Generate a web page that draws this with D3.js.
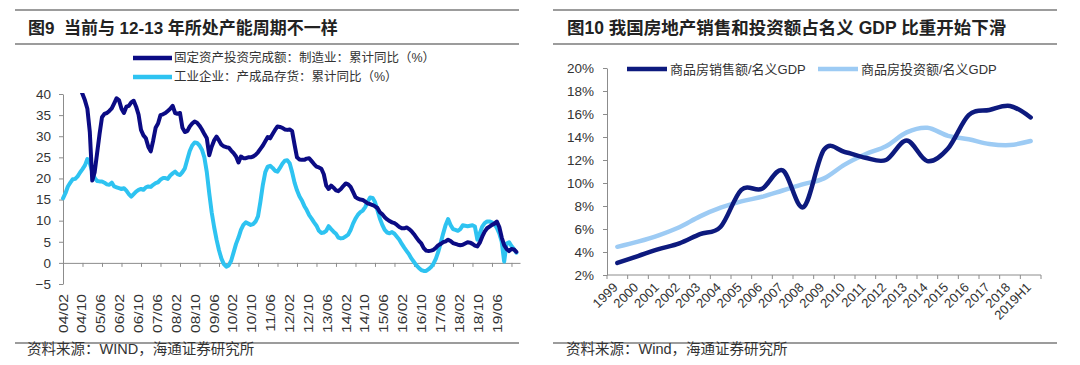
<!DOCTYPE html>
<html>
<head>
<meta charset="utf-8">
<script src="https://cdn.jsdelivr.net/npm/d3@7"></script>
<style>
  body { margin: 0; background: #fff; }
  svg { display: block; }
  text { font-family: "Liberation Sans", Arial, "Noto Sans CJK SC", sans-serif; fill: #333; }
</style>
</head>
<body>
<svg id="chart" width="1080" height="365"></svg>
<script>
// ---- left chart: monthly, 2004/02 .. 2019/08 ----
// 固定资产投资完成额:制造业:累计同比 (%)
const faiMfg = [
  48, 47, 46, 45, 44, 43.5, 43, 41.5, 40, 38.5, 36.5,
  31, 19.5, 21.5, 26, 30.5, 34.5, 35.3, 35.5, 36, 36.6, 37.8, 39,
  38.5, 36.5, 35.5, 37, 37.2, 38, 38.4, 37, 35.1, 31.5, 30.2, 29.5,
  27.5, 26.4, 29, 32, 33, 35, 35.2, 35.5, 36, 36.5, 37.2, 35.5,
  35.3, 35.5, 32, 31, 31.2, 32.3, 33, 33.5, 33.2, 32.5, 31.6, 30.5,
  29.5, 25.5, 27.5, 29, 29.9, 29, 28, 27.6, 27.4, 27.3, 26.6, 26,
  25.2, 23.8, 25.2, 24.8, 24.8, 25, 25, 25.2, 25.6, 26.2, 27, 27.8,
  28.8, 29.8, 29.5, 30.5, 31.5, 32.3, 32.2, 32, 31.6, 31.5, 31.6, 31.2,
  28, 25, 24.5, 24.4, 24.4, 24.7, 24.8, 24.1, 23.4, 22.8, 22.6, 22.3,
  21, 18.3, 17.5, 18.3, 17.8, 17.2, 17, 17.5, 18.2, 18.8, 18.6, 18,
  16.8, 15.6, 15.2, 15, 14.9, 14.5, 14.1, 13.9, 13.7, 13.4, 13, 12,
  11.5, 10.8, 10.3, 9.9, 9.6, 9.4, 9, 8.5, 8.2, 8.2, 8.4, 8,
  7.5, 6.8, 6, 5.2, 4.6, 3.5, 2.9, 2.8, 2.9, 3.1, 3.6, 4.2,
  4.5, 4.9, 5.1, 5.5, 5.2, 4.7, 4.5, 4.3, 4.2, 4.3, 4.6, 4.9,
  4.8, 4.5, 4.1, 3.9, 4.8, 6.2, 7.4, 8.2, 8.6, 9, 9.3, 9.8,
  8.5, 6, 4.2, 3.3, 2.8, 3.3, 3.2, 2.6
];
// 工业企业:产成品存货:累计同比 (%)
const inventory = [
  15.3, 16.5, 18.1, 19.0, 19.8, 19.9, 20.5, 21.4, 22.2, 23.1, 24.6,
  23.6, 21.6, 20.1, 19.4, 19.3, 19.3, 19.0, 18.6, 18.5, 19.0, 18.1, 17.9,
  17.7, 17.5, 17.7, 17.1, 16.3, 15.7, 16.3, 16.9, 17.3, 17.5, 17.3, 17.9,
  18.1, 18.0, 18.5, 18.9, 19.1, 19.7, 20.1, 20.1, 19.9, 20.7, 21.2, 21.6,
  21.0, 20.8, 21.5, 22.4, 24.5, 26.5, 27.8, 28.5, 28.4, 27.8, 26.8, 25.0,
  21.5, 16.5, 12.0, 8.5, 5.5, 3.0, 1.0, -0.3, -0.9, -0.6, 0.5, 2.5,
  4.5, 6.0, 7.8, 9.0, 9.6, 9.3, 9.0, 9.2, 9.8, 11.0, 14.5, 18.5,
  21.5, 22.8, 23.0, 22.5, 21.8, 21.6, 22.5, 23.5, 24.2, 24.3, 23.6, 21.5,
  19.0, 17.2, 15.8, 14.8, 13.5, 12.5, 11.3, 10.5, 9.6, 8.8, 7.6, 7.1,
  7.2, 7.6, 8.7, 8.0, 7.4, 6.9, 6.0, 5.8, 5.9, 6.3, 6.7, 7.8,
  9.3, 10.5, 11.4, 12.0, 12.4, 13.2, 14.5, 15.5, 15.4, 14.4, 12.5, 10.5,
  9.0, 7.8, 7.2, 7.0, 7.3, 6.9, 6.2, 5.5, 4.5, 3.6, 2.8, 2.0,
  1.0, 0.2, -0.6, -1.2, -1.7, -1.9, -1.9, -1.5, -1.0, -0.2, 1.0, 2.7,
  4.8, 7.0, 9.0, 10.4, 9.0, 8.0, 7.8, 7.6, 8.0, 8.9, 8.8, 8.7,
  8.8, 8.9, 8.6, 5.5, 7.0, 8.6, 9.4, 9.8, 9.8, 9.6, 9.2, 8.3,
  7.0, 5.0, 0.3, 4.6, 4.9, 4.0, 3.3, 2.4
];
// one label every 8 months
const monthTicks = [
  "04/02", "04/10", "05/06", "06/02", "06/10", "07/06", "08/02", "08/10",
  "09/06", "10/02", "10/10", "11/06", "12/02", "12/10", "13/06", "14/02",
  "14/10", "15/06", "16/02", "16/10", "17/06", "18/02", "18/10", "19/06"
];
const leftYTicks = [-5, 0, 5, 10, 15, 20, 25, 30, 35, 40];

// ---- right chart: yearly ----
const years = [
  "1999", "2000", "2001", "2002", "2003", "2004", "2005", "2006", "2007", "2008",
  "2009", "2010", "2011", "2012", "2013", "2014", "2015", "2016", "2017", "2018", "2019H1"
];
// 商品房销售额/名义GDP
const salesGdp = [
  0.0305, 0.0365, 0.0425, 0.0475, 0.0555, 0.062, 0.094, 0.095, 0.111, 0.079,
  0.129, 0.127, 0.122, 0.120, 0.137, 0.119, 0.130, 0.159, 0.1635, 0.167, 0.157
];
// 商品房投资额/名义GDP
const investGdp = [
  0.0445, 0.049, 0.0545, 0.0615, 0.071, 0.0785, 0.084, 0.088, 0.0935, 0.099,
  0.104, 0.116, 0.125, 0.132, 0.144, 0.148, 0.141, 0.138, 0.134, 0.133, 0.1365
];
const rightYTicks = [0.02, 0.04, 0.06, 0.08, 0.10, 0.12, 0.14, 0.16, 0.18, 0.20];

const svg = d3.select("#chart");
const axisColor = "#8c8c8c";

// header / footer rules and texts
const drawFrame = (x0, x1, title, source, tx, titleSize) => {
  const g = svg.append("g");
  [10, 44, 343].forEach((y) => {
    g.append("line")
      .attr("x1", x0).attr("x2", x1)
      .attr("y1", y).attr("y2", y)
      .attr("stroke", "#3a3a3a")
      .attr("stroke-width", 1.2);
  });
  g.append("text")
    .attr("x", tx).attr("y", 34)
    .attr("font-size", titleSize)
    .attr("font-weight", "bold")
    .style("fill", "#222")
    .style("white-space", "pre")
    .text(title);
  g.append("text")
    .attr("x", tx - 1).attr("y", 354)
    .attr("font-size", 14.5)
    .text(source);
};
drawFrame(15, 519, "图9  当前与 12-13 年所处产能周期不一样", "资料来源：WIND，海通证券研究所", 28, 17);
drawFrame(553, 1057, "图10 我国房地产销售和投资额占名义 GDP 比重开始下滑", "资料来源：Wind，海通证券研究所", 567, 17.5);

// ================= left chart =================
const darkL = "#0b0b84";
const cyanL = "#2ec3f1";

const xL = d3.scaleLinear().domain([0, 187.5]).range([63, 520]);
const yL = d3.scaleLinear().domain([-5, 40]).range([284, 94]);
// label slots under the axis are spaced a little tighter than the ticks
const xLabel = d3.scalePoint().domain(monthTicks).range([63, 497]);

svg.append("clipPath").attr("id", "clipL")
  .append("rect")
  .attr("x", 60).attr("y", yL(40) - 1)
  .attr("width", 465).attr("height", yL(-5) - yL(40) + 2);

const left = svg.append("g");

// y axis
left.append("g")
  .attr("transform", `translate(${xL(0)},0)`)
  .call(d3.axisLeft(yL).tickValues(leftYTicks).tickSize(4).tickSizeOuter(0).tickPadding(8))
  .call((g) => g.selectAll("path, line").attr("stroke", axisColor))
  .call((g) => g.selectAll("text")
    .attr("font-size", 13.5)
    .attr("font-family", "Liberation Sans, Arial, sans-serif")
    .style("fill", "#333"));

// x axis at zero
const tickIdx = monthTicks.map((d, i) => i * 8);
left.append("g")
  .attr("transform", `translate(0,${yL(0)})`)
  .call(d3.axisBottom(xL).tickValues(tickIdx).tickSize(4).tickSizeOuter(0).tickFormat(""))
  .call((g) => g.selectAll("path, line").attr("stroke", axisColor));

left.append("g")
  .selectAll("text")
  .data(monthTicks)
  .join("text")
  .attr("transform", (d) => `translate(${xLabel(d)},294) rotate(-90) scale(1.2,1)`)
  .attr("text-anchor", "end")
  .attr("dy", "0.35em")
  .attr("font-size", 13)
  .text((d) => d);

const lineL = d3.line()
  .x((d, i) => xL(i))
  .y((d) => yL(d));

const linesL = left.append("g").attr("clip-path", "url(#clipL)");
linesL.append("path")
  .datum(inventory)
  .attr("d", lineL)
  .attr("fill", "none")
  .attr("stroke", cyanL)
  .attr("stroke-width", 4)
  .attr("stroke-linejoin", "round")
  .attr("stroke-linecap", "round");
linesL.append("path")
  .datum(faiMfg)
  .attr("d", lineL)
  .attr("fill", "none")
  .attr("stroke", darkL)
  .attr("stroke-width", 4)
  .attr("stroke-linejoin", "round")
  .attr("stroke-linecap", "round");

// legend
const legL = [
  { name: "固定资产投资完成额：制造业：累计同比（%）", color: darkL, y: 58 },
  { name: "工业企业：产成品存货：累计同比（%）", color: cyanL, y: 77 },
];
const legLg = left.append("g").selectAll("g").data(legL).join("g");
legLg.append("line")
  .attr("x1", 133).attr("x2", 172)
  .attr("y1", (d) => d.y).attr("y2", (d) => d.y)
  .attr("stroke", (d) => d.color)
  .attr("stroke-width", 4.5);
legLg.append("text")
  .attr("x", 174).attr("y", (d) => d.y)
  .attr("dy", "0.35em")
  .attr("font-size", 12.5)
  .text((d) => d.name);

// ================= right chart =================
const darkR = "#0d1a7e";
const lightR = "#9dcbf4";

const xR = d3.scaleBand().domain(years).range([607, 1041]);
const yR = d3.scaleLinear().domain([0.02, 0.2]).range([275, 68]);
const cx = (d) => xR(d) + xR.bandwidth() / 2;

const right = svg.append("g");

right.append("g")
  .attr("transform", `translate(${xR.range()[0]},0)`)
  .call(d3.axisLeft(yR).tickValues(rightYTicks).tickSize(4).tickSizeOuter(0).tickPadding(9)
    .tickFormat(d3.format(".0%")))
  .call((g) => g.selectAll("path, line").attr("stroke", axisColor))
  .call((g) => g.selectAll("text")
    .attr("font-size", 13.5)
    .attr("font-family", "Liberation Sans, Arial, sans-serif")
    .style("fill", "#333"));

// x axis with ticks between categories
const xAxisR = right.append("g");
xAxisR.append("line")
  .attr("x1", xR.range()[0]).attr("x2", xR.range()[1])
  .attr("y1", yR(0.02)).attr("y2", yR(0.02))
  .attr("stroke", axisColor);
xAxisR.selectAll("line.tick")
  .data(years.map((d) => xR(d)).concat([xR.range()[1]]))
  .join("line")
  .attr("class", "tick")
  .attr("x1", (d) => d).attr("x2", (d) => d)
  .attr("y1", yR(0.02)).attr("y2", yR(0.02) + 4)
  .attr("stroke", axisColor);
xAxisR.selectAll("text")
  .data(years)
  .join("text")
  .attr("transform", (d) => `translate(${cx(d) - 2},${yR(0.02) + 10}) rotate(-45)`)
  .attr("text-anchor", "end")
  .attr("dy", "0.35em")
  .attr("font-size", 13)
  .text((d) => d);

const lineR = d3.line()
  .x((d, i) => cx(years[i]))
  .y((d) => yR(d))
  .curve(d3.curveCatmullRom.alpha(0));

right.append("path")
  .datum(investGdp)
  .attr("d", lineR)
  .attr("fill", "none")
  .attr("stroke", lightR)
  .attr("stroke-width", 4.5)
  .attr("stroke-linecap", "round");
right.append("path")
  .datum(salesGdp)
  .attr("d", lineR)
  .attr("fill", "none")
  .attr("stroke", darkR)
  .attr("stroke-width", 4.5)
  .attr("stroke-linecap", "round");

const legR = [
  { name: "商品房销售额/名义GDP", color: darkR, x: 627 },
  { name: "商品房投资额/名义GDP", color: lightR, x: 818 },
];
const legRg = right.append("g").selectAll("g").data(legR).join("g");
legRg.append("line")
  .attr("x1", (d) => d.x).attr("x2", (d) => d.x + 40)
  .attr("y1", 69).attr("y2", 69)
  .attr("stroke", (d) => d.color)
  .attr("stroke-width", 4.5);
legRg.append("text")
  .attr("x", (d) => d.x + 43).attr("y", 69)
  .attr("dy", "0.35em")
  .attr("font-size", 13)
  .text((d) => d.name);
</script>
</body>
</html>
